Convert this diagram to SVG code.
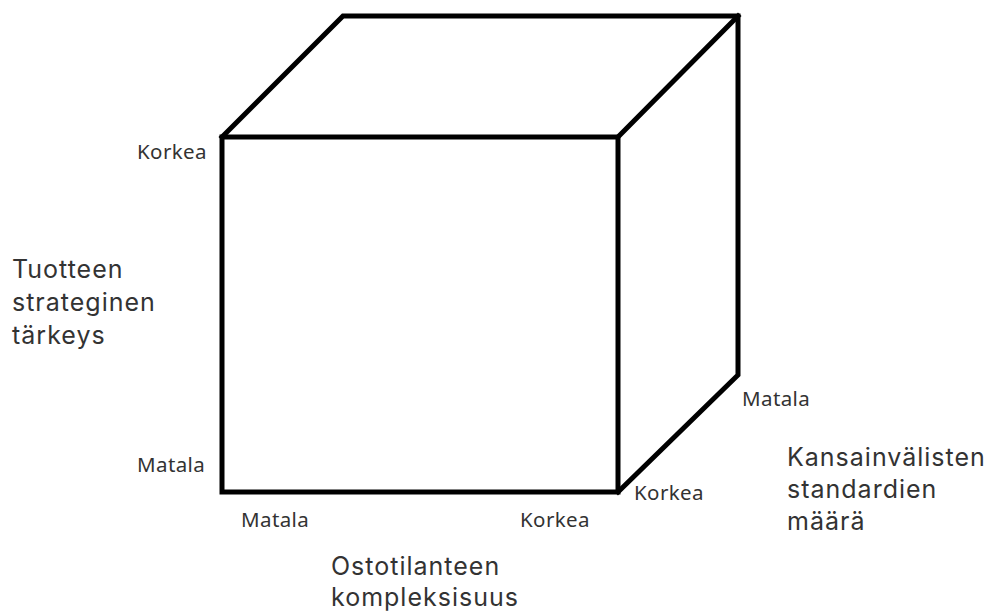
<svg xmlns="http://www.w3.org/2000/svg" width="992" height="614" viewBox="0 0 992 614">
<style>
.edge{fill:none;stroke:#000;stroke-width:5;stroke-linejoin:miter;stroke-linecap:square}
.s{font-family:"Noto Sans","Open Sans","DejaVu Sans",sans-serif;font-size:20.5px;fill:#333;letter-spacing:0.4px}
.l{font-family:Inter,"Noto Sans","DejaVu Sans",sans-serif;font-size:25px;fill:#333;letter-spacing:1px}
</style>
<rect width="992" height="614" fill="#fff"/>
<g id="connectors">
<path class="edge" d="M222,137 L343,16 L738,16 L738,375 L618,492"/>
<path class="edge" d="M618,137 L738,16"/>
</g>
<g id="front-face">
<rect class="edge" x="222" y="137" width="396" height="355"/>
</g>
<g id="y-axis">
<text class="s" x="137" y="159">Korkea</text>
<text class="s" x="137" y="472">Matala</text>
<text class="l" x="12" y="278">Tuotteen</text>
<text class="l" x="12" y="311">strateginen</text>
<text class="l" x="12" y="344">tärkeys</text>
</g>
<g id="x-axis">
<text class="s" x="241" y="527">Matala</text>
<text class="s" x="520" y="527">Korkea</text>
<text class="l" x="331" y="575">Ostotilanteen</text>
<text class="l" x="331" y="606">kompleksisuus</text>
</g>
<g id="z-axis">
<text class="s" x="742" y="406">Matala</text>
<text class="s" x="634" y="500">Korkea</text>
<text class="l" x="787" y="466">Kansainvälisten</text>
<text class="l" x="787" y="498">standardien</text>
<text class="l" x="787" y="530">määrä</text>
</g>
</svg>
